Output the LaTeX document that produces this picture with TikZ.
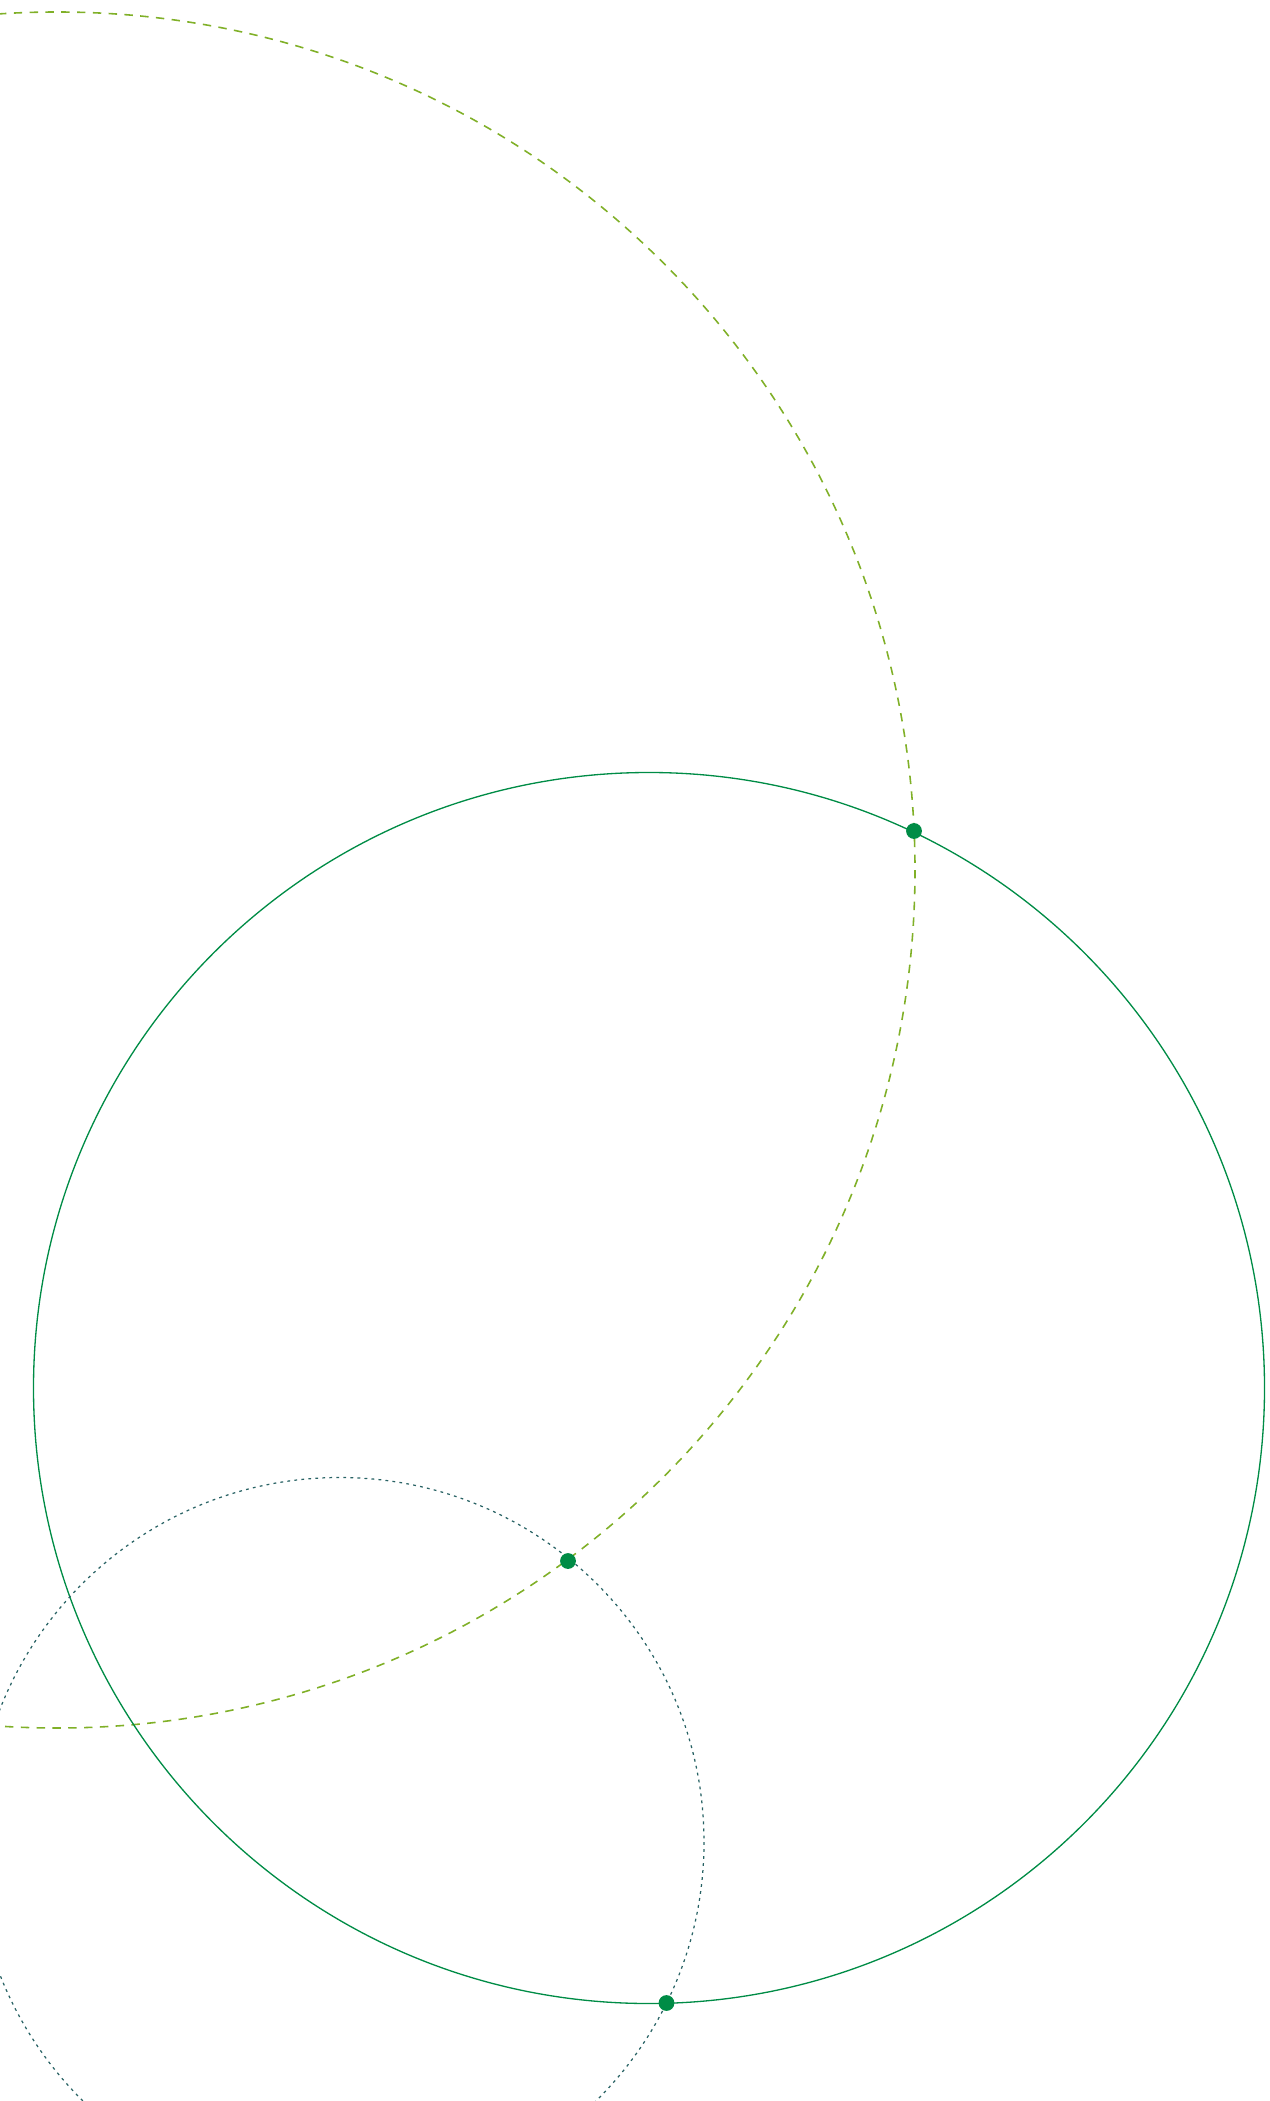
\documentclass[tikz,border=0pt]{standalone}
\usepackage{tikz}
\usetikzlibrary{positioning}

\definecolor{ringgreen}{RGB}{0,140,70}
\definecolor{olivedash}{RGB}{128,176,40}
\definecolor{slatedot}{RGB}{40,98,100}

\begin{document}
\begin{tikzpicture}[
    x=0.02cm, y=-0.02cm,
    ring/.style={draw=ringgreen, line width=0.75pt},
    bigdash/.style={draw=olivedash, line width=0.9pt, dash pattern=on 4.8pt off 4.2pt},
    smalldot/.style={draw=slatedot, line width=0.7pt, dash pattern=on 1.6pt off 2.4pt},
    meet/.style={circle, fill=ringgreen, inner sep=0pt, minimum size=9pt}
]
    % Frame: 1270 x 2101 px
    \useasboundingbox (0,0) rectangle (1270,2101);

    % Circle centres
    \coordinate (Cbig) at (57,870);
    \coordinate (Cring) at (649,1388);
    \coordinate (Csmall) at (339.5,1842);

    % Circles
    \begin{scope}
        \clip (0,0) rectangle (1270,2101);
        \draw[bigdash] (Cbig) circle [radius=858];
        \draw[ring] (Cring) circle [radius=615.5];
        \draw[smalldot] (Csmall) circle [radius=364.5];
    \end{scope}

    % Intersection points
    \node[meet] (p1) at (914,831) {};
    \node[meet] (p2) at (568,1561) {};
    \node[meet] (p3) at (666.5,2003) {};
\end{tikzpicture}
\end{document}
